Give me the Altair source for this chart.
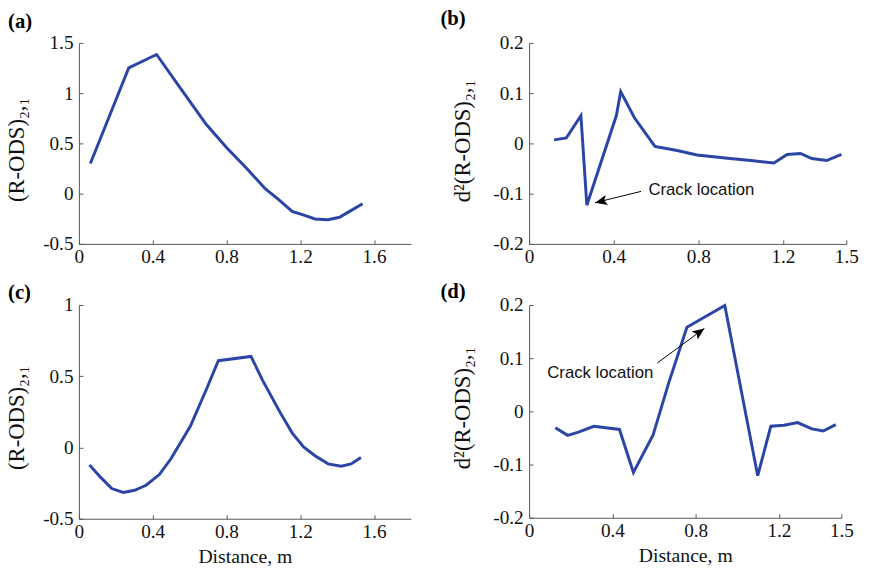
import altair as alt
import pandas as pd

# ---------------- data ----------------
# (a) (R-ODS)2,1 vs distance
a_x = [0.062, 0.166, 0.270, 0.421, 0.55, 0.69, 0.80, 0.91, 1.01, 1.08, 1.156, 1.22, 1.28, 1.35, 1.413, 1.47, 1.538]
a_y = [0.30, 0.775, 1.252, 1.385, 1.05, 0.69, 0.46, 0.25, 0.05, -0.055, -0.176, -0.214, -0.252, -0.26, -0.235, -0.174, -0.10]

# (b) d2(R-ODS)2,1 vs distance
b_x = [0.118, 0.176, 0.245, 0.273, 0.413, 0.433, 0.498, 0.595, 0.70, 0.794, 0.95, 1.05, 1.158, 1.22, 1.283, 1.337, 1.407, 1.477]
b_y = [0.007, 0.011, 0.055, -0.123, 0.056, 0.103, 0.051, -0.006, -0.014, -0.023, -0.030, -0.034, -0.039, -0.022, -0.020, -0.030, -0.034, -0.022]

# (c) (R-ODS)2,1 vs distance
c_x = [0.057, 0.118, 0.178, 0.24, 0.302, 0.364, 0.436, 0.498, 0.604, 0.693, 0.756, 0.933, 0.996, 1.093, 1.156, 1.218, 1.28, 1.351, 1.422, 1.476, 1.529]
c_y = [-0.122, -0.21, -0.288, -0.315, -0.30, -0.265, -0.19, -0.081, 0.149, 0.414, 0.609, 0.639, 0.471, 0.241, 0.103, 0.004, -0.058, -0.115, -0.132, -0.115, -0.07]

# (d) d2(R-ODS)2,1 vs distance
d_x = [0.126, 0.185, 0.237, 0.311, 0.434, 0.501, 0.595, 0.671, 0.758, 0.94, 1.098, 1.161, 1.224, 1.29, 1.358, 1.413, 1.473]
d_y = [-0.031, -0.045, -0.039, -0.028, -0.034, -0.115, -0.045, 0.054, 0.158, 0.199, -0.121, -0.028, -0.026, -0.021, -0.033, -0.037, -0.025]

# axis ticks
ticks_x_ac = [0, 0.4, 0.8, 1.2, 1.6]
ticks_x_bd = [0, 0.4, 0.8, 1.2, 1.5]
ticks_y_a = [-0.5, 0, 0.5, 1, 1.5]
ticks_y_c = [-0.5, 0, 0.5, 1]
ticks_y_bd = [-0.2, -0.1, 0, 0.1, 0.2]

# annotations: text position, arrow tail, arrow tip (data units)
ann_text = "Crack location"
ann_b_text = [0.564, -0.102]
ann_b_tail = [0.529, -0.0955]
ann_b_tip = [0.312, -0.118]
ann_d_text = [0.087, 0.062]
ann_d_tail = [0.616, 0.091]
ann_d_tip = [0.842, 0.156]

Y_ODS = "(R-ODS)\u2082,\u2081"
Y_D2 = "d\u00b2(R-ODS)\u2082,\u2081"
X_TITLE = "Distance, m"

# ---------------- style ----------------
BLUE = "#2b45a6"
AXC = "#555555"
TXT = "#111111"
SERIF = "Liberation Serif"
SANS = "Liberation Sans"
LBL = "datum.value < 0 ? '-' + format(-datum.value, '~g') : format(datum.value, '~g')"
ARROW = "M0,0 L0.42,1 L0,0.78 L-0.42,1 Z"


def panel(xs, ys, xdom, xticks, ydom, yticks, w, h, ytitle, ytx, yty,
          letter, tdx, toff, xtitle=None, ann=None):
    df = pd.DataFrame({"x": xs, "y": ys})
    xs_ = alt.Scale(domain=xdom, nice=False, zero=False)
    ys_ = alt.Scale(domain=ydom, nice=False, zero=False)

    xaxis_kw = dict(values=xticks, ticks=False, tickSize=0, grid=False, labelPadding=4,
                    labelFont=SERIF, labelFontSize=19.5, labelColor=TXT, domainColor=AXC,
                    domainWidth=1, labelExpr=LBL, labelFlush=False, labelOverlap=False)
    if xtitle:
        xaxis = alt.Axis(title=xtitle, titleFont=SERIF, titleFontSize=20, titleFontWeight="normal",
                         titleColor=TXT, titleY=44, titleBaseline="alphabetic", **xaxis_kw)
    else:
        xaxis = alt.Axis(title=None, **xaxis_kw)
    yaxis = alt.Axis(values=yticks, ticks=False, tickSize=0, grid=False, labelPadding=6,
                     labelFont=SERIF, labelFontSize=19.5, labelColor=TXT, domainColor=AXC,
                     domainWidth=1, labelExpr=LBL, labelFlush=False, labelOverlap=False,
                     title=ytitle, titleFont=SERIF, titleFontSize=23, titleFontWeight="normal",
                     titleColor=TXT, titleAngle=270, titleX=ytx, titleY=yty,
                     titleAlign="center", titleBaseline="bottom")

    line = alt.Chart(df).mark_line(color=BLUE, strokeWidth=3).encode(
        x=alt.X("x:Q", scale=xs_, axis=xaxis),
        y=alt.Y("y:Q", scale=ys_, axis=yaxis),
    )
    # inward tick marks (second, label-less axes drawn inside the plot)
    tick_layer = alt.Chart(df).mark_line(opacity=0).encode(
        x=alt.X("x:Q", scale=xs_, axis=alt.Axis(orient="bottom", offset=-4, tickSize=4, tickColor=AXC,
                                                domain=False, labels=False, grid=False, title=None,
                                                values=xticks)),
        y=alt.Y("y:Q", scale=ys_, axis=alt.Axis(orient="left", offset=-4, tickSize=4, tickColor=AXC,
                                                domain=False, labels=False, grid=False, title=None,
                                                values=yticks)),
    )
    layers = [line, tick_layer]
    if ann:
        (tx, ty), (ax0, ay0), (ax1, ay1), ang = ann
        tdf = pd.DataFrame({"x": [tx], "y": [ty], "t": [ann_text]})
        adf = pd.DataFrame({"x": [ax0], "y": [ay0], "x2": [ax1], "y2": [ay1]})
        hdf = pd.DataFrame({"x": [ax1], "y": [ay1]})
        layers.append(alt.Chart(tdf).mark_text(align="left", baseline="alphabetic", font=SANS,
                                                fontSize=17, color=TXT).encode(
            x=alt.X("x:Q", scale=xs_, axis=None), y=alt.Y("y:Q", scale=ys_, axis=None), text="t:N"))
        layers.append(alt.Chart(adf).mark_rule(color="black", strokeWidth=1).encode(
            x=alt.X("x:Q", scale=xs_, axis=None), y=alt.Y("y:Q", scale=ys_, axis=None),
            x2="x2:Q", y2="y2:Q"))
        layers.append(alt.Chart(hdf).mark_point(shape=ARROW, filled=True, color="black", opacity=1,
                                                size=600, angle=ang, strokeWidth=0).encode(
            x=alt.X("x:Q", scale=xs_, axis=None), y=alt.Y("y:Q", scale=ys_, axis=None)))

    return alt.layer(*layers).resolve_axis(x="independent", y="independent").properties(
        width=w, height=h,
        title=alt.TitleParams(text=letter, anchor="start", orient="top", frame="group",
                              font=SERIF, fontSize=21, fontWeight="bold", color="black",
                              baseline="alphabetic", offset=toff, dx=tdx),
    )


pa = panel(a_x, a_y, [0, 1.8], ticks_x_ac, [-0.5, 1.5], ticks_y_a, 337, 204,
           Y_ODS, -51, 108, "(a)", -72, -16)
pb = panel(b_x, b_y, [0, 1.5], ticks_x_bd, [-0.2, 0.2], ticks_y_bd, 322, 204,
           Y_D2, -56, 99, "(b)", -90, -13,
           ann=(ann_b_text, ann_b_tail, ann_b_tip, 257))
pc = panel(c_x, c_y, [0, 1.8], ticks_x_ac, [-0.5, 1.0], ticks_y_c, 337, 217,
           Y_ODS, -51, 114, "(c)", -72, -25, xtitle=X_TITLE)
pd_ = panel(d_x, d_y, [0, 1.5], ticks_x_bd, [-0.2, 0.2], ticks_y_bd, 317, 216,
            Y_D2, -56, 104, "(d)", -90, -24, xtitle=X_TITLE,
            ann=(ann_d_text, ann_d_tail, ann_d_tip, 54))

chart = alt.concat(pa, pb, pc, pd_, columns=2, spacing={"row": 62, "column": 120},
                   bounds="flush").properties(
    autosize=alt.AutoSizeParams(type="none"),
    padding={"left": 72, "top": 31, "right": 800, "bottom": 560},
    background="white",
).configure_view(stroke=None)

chart.save("out.html", embed_options={"renderer": "svg", "actions": False})
